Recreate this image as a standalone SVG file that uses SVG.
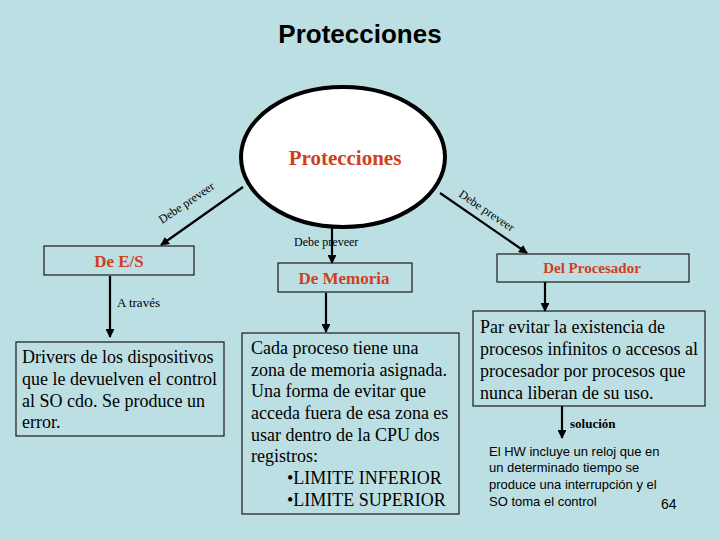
<svg xmlns="http://www.w3.org/2000/svg" width="720" height="540" viewBox="0 0 720 540">
<defs>
<marker id="ah" viewBox="0 0 10 10" refX="9" refY="5" markerWidth="4" markerHeight="4" orient="auto" markerUnits="strokeWidth">
<path d="M0,0 L10,5 L0,10 z" fill="#000"/>
</marker>
<style>
.bg{fill:#bcdfe4}
.box{fill:none;stroke:#1a1a1a;stroke-width:1.2}
.con{stroke:#000;stroke-width:2.2;fill:none;marker-end:url(#ah)}
.ser{font-family:"Liberation Serif","Times New Roman",serif;fill:#000}
.red{font-family:"Liberation Serif","Times New Roman",serif;font-weight:bold;fill:#d0401c}
.body{font-size:18px}
.lbl{font-size:12px}
.sans{font-family:"Liberation Sans",Arial,sans-serif;fill:#000}
</style>
</defs>
<rect class="bg" x="0" y="0" width="720" height="540"/>
<text class="sans" x="360" y="43" font-size="26" font-weight="bold" text-anchor="middle">Protecciones</text>

<g id="connectors">
<line class="con" x1="243" y1="187" x2="161" y2="245"/>
<line class="con" x1="440" y1="193" x2="527" y2="253"/>
<line class="con" x1="332" y1="227" x2="332" y2="263"/>
<line class="con" x1="110" y1="276" x2="110" y2="337"/>
<line class="con" x1="326" y1="293" x2="326" y2="332"/>
<line class="con" x1="545" y1="282" x2="545" y2="311"/>
<line class="con" x1="562" y1="406" x2="562" y2="438"/>
<text class="ser lbl" transform="translate(162,224) rotate(-34)">Debe preveer</text>
<text class="ser lbl" transform="translate(458,196) rotate(34)">Debe preveer</text>
<text class="ser lbl" x="294" y="246">Debe preveer</text>
<text class="ser" x="117" y="307" font-size="13">A través</text>
<text class="ser" x="570" y="428" font-size="13" font-weight="bold">solución</text>
</g>

<g id="root">
<ellipse cx="343" cy="157" rx="102" ry="70" fill="#fff" stroke="#000" stroke-width="4"/>
<text class="red" x="345" y="165" font-size="21" text-anchor="middle">Protecciones</text>
</g>

<g id="es">
<rect class="box" x="44" y="246" width="150" height="29"/>
<text class="red" x="119" y="267" font-size="17" text-anchor="middle">De E/S</text>
</g>

<g id="memoria">
<rect class="box" x="278" y="263" width="134" height="29"/>
<text class="red" x="344" y="284" font-size="17" text-anchor="middle">De Memoria</text>
</g>

<g id="procesador">
<rect class="box" x="497" y="254" width="192" height="28"/>
<text class="red" x="592" y="273" font-size="15" text-anchor="middle">Del Procesador</text>
</g>

<g id="drivers">
<rect class="box" x="16" y="342" width="208" height="94"/>
<text class="ser body" x="22"><tspan x="22" y="363">Drivers de los dispositivos</tspan><tspan x="22" y="385">que le devuelven el control</tspan><tspan x="22" y="407">al SO cdo. Se produce un</tspan><tspan x="22" y="428">error.</tspan></text>
</g>

<g id="registros">
<rect class="box" x="242" y="333" width="217" height="181"/>
<text class="ser body"><tspan x="251" y="354">Cada proceso tiene una</tspan><tspan x="251" y="376">zona de memoria asignada.</tspan><tspan x="251" y="397">Una forma de evitar que</tspan><tspan x="251" y="419">acceda fuera de esa zona es</tspan><tspan x="251" y="441">usar dentro de la CPU dos</tspan><tspan x="251" y="462">registros:</tspan><tspan x="287" y="484">•LIMITE INFERIOR</tspan><tspan x="287" y="506">•LIMITE SUPERIOR</tspan></text>
</g>

<g id="problema">
<rect class="box" x="473" y="311" width="232" height="95"/>
<text class="ser body"><tspan x="480" y="333">Par evitar la existencia de</tspan><tspan x="480" y="355">procesos infinitos o accesos al</tspan><tspan x="480" y="377">procesador por procesos que</tspan><tspan x="480" y="399">nunca liberan de su uso.</tspan></text>
</g>

<g id="solucion">
<text class="sans" font-size="13"><tspan x="489" y="456">El HW incluye un reloj que en</tspan><tspan x="489" y="472">un determinado tiempo se</tspan><tspan x="489" y="489">produce una interrupción y el</tspan><tspan x="489" y="506">SO toma el control</tspan></text>
</g>
<text class="sans" x="661" y="509" font-size="14">64</text>
</svg>
